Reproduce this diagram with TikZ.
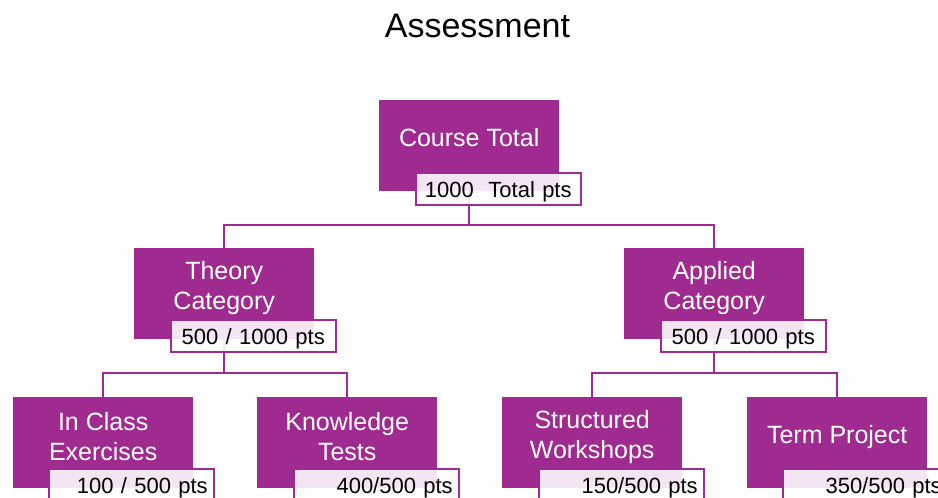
\documentclass[tikz,border=0pt]{standalone}
\usepackage{fontspec}
\setmainfont{Liberation Sans}
\usetikzlibrary{backgrounds}
\definecolor{purp}{RGB}{160,43,144}
\begin{document}
\begin{tikzpicture}[x=1pt,y=-1pt,
 box/.style={rectangle, fill=purp, minimum width=180pt, minimum height=91pt, inner sep=0pt, anchor=north west},
 boxtext/.style={text=white, font=\fontsize{25}{30}\selectfont, align=center, inner sep=0pt},
 lab/.style={draw=purp, line width=1.5pt, fill=white, fill opacity=0.88, text opacity=1, minimum width=165pt, minimum height=32pt, inner sep=0pt, font=\fontsize{22}{26}\selectfont, text height=16pt, text depth=0pt, anchor=north west, text width=153pt},
 labc/.style={lab, align=center},
 labr/.style={lab, align=right},
 conn/.style={draw=purp, line width=2pt}]
\useasboundingbox (0,0) rectangle (938,498);
\node[font=\fontsize{34}{40}\selectfont, anchor=base] (title) at (477.5,37) {Assessment};

\node[box] (cbox) at (379,100) {};
\node[box] (tbox) at (134,248) {};
\node[box] (abox) at (624,248) {};
\node[box] (ibox) at (13,397) {};
\node[box] (kbox) at (257,397) {};
\node[box] (sbox) at (502,397) {};
\node[box] (pbox) at (747,397) {};

\node[boxtext] (ctext) at ([yshift=8pt]cbox.center) {Course Total};
\node[boxtext] (ttext) at ([yshift=6pt]tbox.center) {Theory\\Category};
\node[boxtext] (atext) at ([yshift=6pt]abox.center) {Applied\\Category};
\node[boxtext] (itext) at ([yshift=6pt]ibox.center) {In Class\\Exercises};
\node[boxtext] (ktext) at ([yshift=6pt]kbox.center) {Knowledge\\Tests};
\node[boxtext] (stext) at ([yshift=6pt]sbox.center) {Structured\\Workshops};
\node[boxtext] (ptext) at ([yshift=6pt]pbox.center) {Term Project};

\node[labc] (clab) at ([xshift=36pt,yshift=19pt]cbox.south west) {1000\ \ Total pts};
\node[labc] (tlab) at ([xshift=36pt,yshift=20pt]tbox.south west) {500 / 1000 pts};
\node[labc] (alab) at ([xshift=36pt,yshift=20pt]abox.south west) {500 / 1000 pts};
\node[labr] (ilab) at ([xshift=35pt,yshift=20pt]ibox.south west) {100 / 500 pts};
\node[labr] (klab) at ([xshift=36pt,yshift=20pt]kbox.south west) {400/500 pts};
\node[labr] (slab) at ([xshift=36pt,yshift=20pt]sbox.south west) {150/500 pts};
\node[labr] (plab) at ([xshift=35pt,yshift=20pt]pbox.south west) {350/500 pts};

\begin{scope}[on background layer]
\draw[conn] (cbox.south) -- ++(0,34) -| (tbox.north);
\draw[conn] (cbox.south) ++(0,34) -| (abox.north);
\draw[conn] (tbox.south) -- ++(0,34) -| (ibox.north);
\draw[conn] (tbox.south) ++(0,34) -| (kbox.north);
\draw[conn] (abox.south) -- ++(0,34) -| (sbox.north);
\draw[conn] (abox.south) ++(0,34) -| (pbox.north);
\end{scope}
\end{tikzpicture}
\end{document}
